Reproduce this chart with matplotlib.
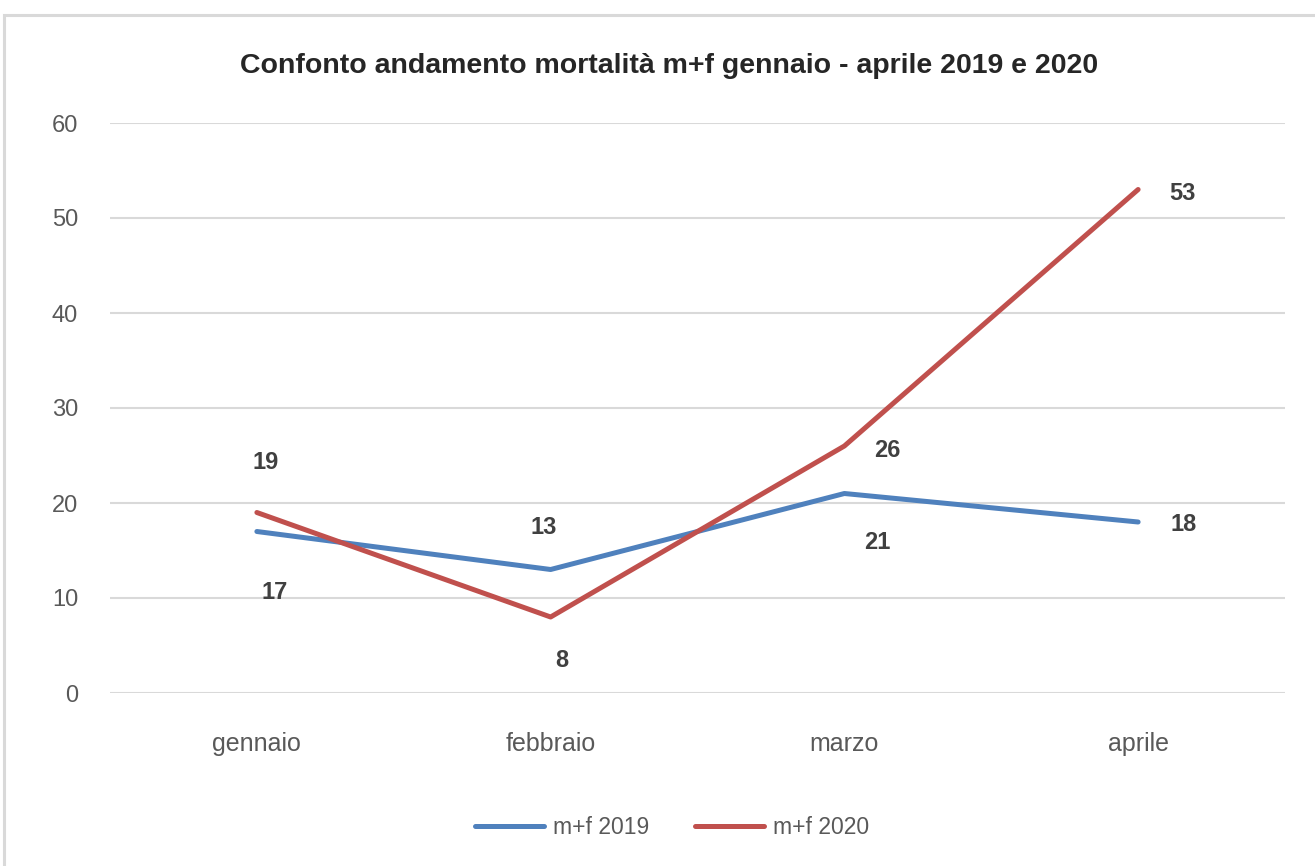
import matplotlib
matplotlib.use("Agg")
import matplotlib.pyplot as plt
from matplotlib.patches import Rectangle

plt.rcParams['font.family'] = ['Liberation Sans', 'DejaVu Sans']

months = ["gennaio", "febbraio", "marzo", "aprile"]
deaths_2019 = [17, 13, 21, 18]
deaths_2020 = [19, 8, 26, 53]
series_names = ["m+f 2019", "m+f 2020"]
title = "Confonto andamento mortalità m+f gennaio - aprile 2019 e 2020"
yticks = [0, 10, 20, 30, 40, 50, 60]

W, H = 1315, 866
fig = plt.figure(figsize=(W / 100, H / 100), dpi=100)
fig.patch.set_facecolor("white")

# outer chart border (light gray)
fig.patches.append(Rectangle((4 / W, -0.1), 1.2, (H - 15) / H + 0.1, transform=fig.transFigure,
                             fill=False, edgecolor="#D9D9D9", linewidth=2.2))

ax = fig.add_axes([110 / W, 173 / H, 1175 / W, 570 / H])
x = list(range(len(months)))

blue = "#4F81BD"
red = "#C0504D"
l1, = ax.plot(x, deaths_2019, color=blue, linewidth=3.6, solid_capstyle="round", zorder=3)
l2, = ax.plot(x, deaths_2020, color=red, linewidth=3.6, solid_capstyle="round", zorder=4)

ax.set_xlim(-0.5, 3.5)
ax.set_ylim(0, 60)
ax.set_yticks(yticks)
ax.set_xticks(x)
ax.set_xticklabels(months)
ax.grid(axis="y", color="#D9D9D9", linewidth=1.5)
ax.set_axisbelow(True)
for s in ax.spines.values():
    s.set_visible(False)
ax.tick_params(axis="y", length=0, labelsize=17, labelcolor="#595959", pad=23)
ax.tick_params(axis="x", length=0, labelsize=18, labelcolor="#595959", pad=28)

lab_kw = dict(textcoords="offset points", fontsize=17, fontweight="bold", color="#404040",
              ha="center", va="center")
# offsets in points (px * 0.72)
off_2019 = [(13, -44), (-5, 30), (24, -35), (33, -2)]
off_2020 = [(6, 36), (8, -31), (31, -3), (32, -3)]
for i, v in enumerate(deaths_2019):
    ax.annotate(str(v), (x[i], v), xytext=off_2019[i], **lab_kw)
for i, v in enumerate(deaths_2020):
    ax.annotate(str(v), (x[i], v), xytext=off_2020[i], **lab_kw)

fig.text(669 / W, 1 - 66 / H, title, ha="center", va="center", fontsize=20.5,
         fontweight="bold", color="#262626")

leg = fig.legend([l1, l2], series_names, loc="center", bbox_to_anchor=(672 / W, 1 - 828 / H),
                 ncol=2, frameon=False, fontsize=16.5, handlelength=3.0, columnspacing=2.0,
                 handletextpad=0.4)
for t in leg.get_texts():
    t.set_color("#595959")

fig.savefig("out.png", dpi=100, facecolor="white")
